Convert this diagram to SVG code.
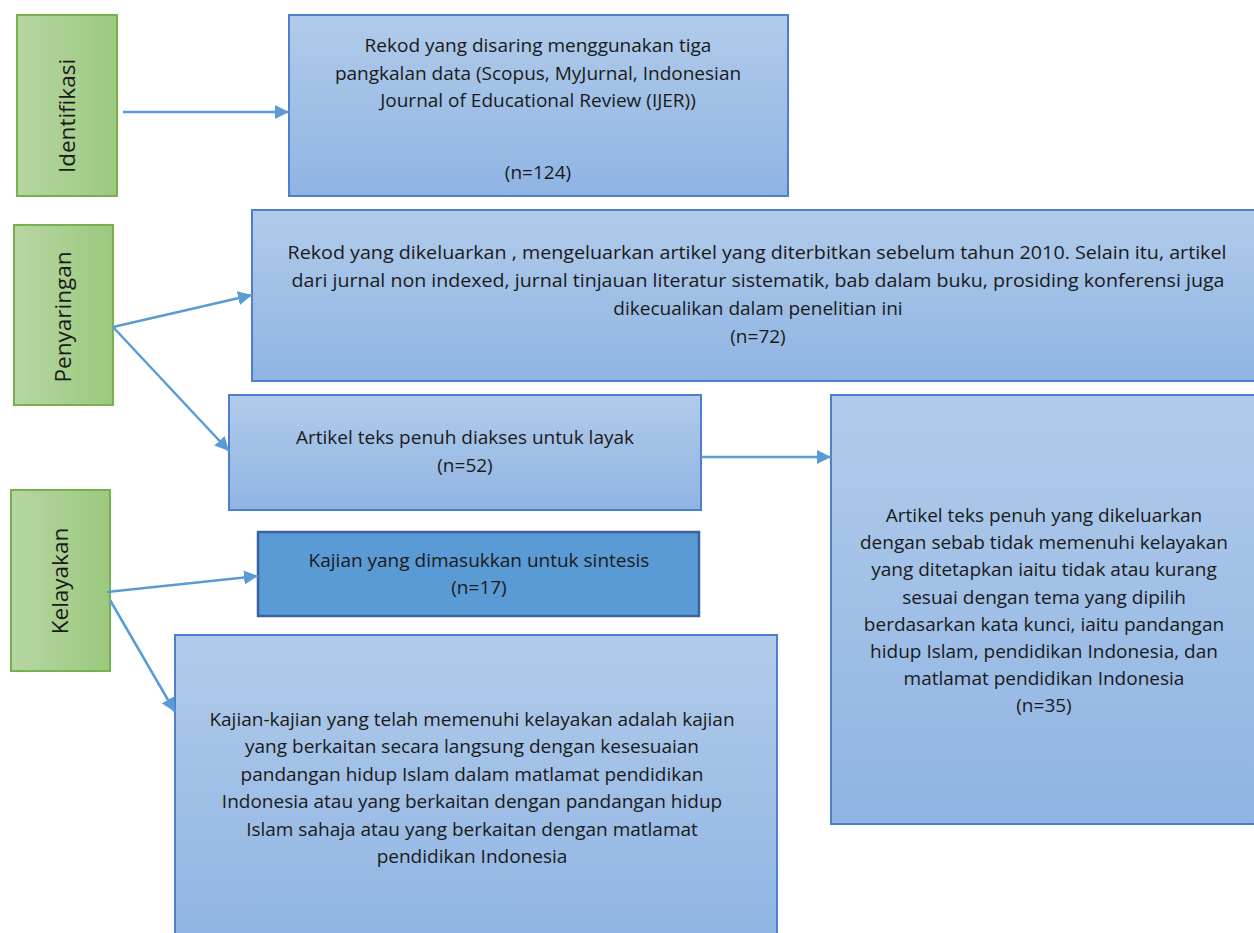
<svg xmlns="http://www.w3.org/2000/svg" width="1254" height="933" viewBox="0 0 1254 933">
<defs>
<linearGradient id="gb" x1="0" y1="0" x2="0" y2="1"><stop offset="0" stop-color="#b1cbea"/><stop offset="1" stop-color="#8fb4e3"/></linearGradient>
<linearGradient id="gg" x1="0" y1="0" x2="1" y2="0"><stop offset="0" stop-color="#b6d6a2"/><stop offset="1" stop-color="#9cc97e"/></linearGradient>
<marker id="ar" viewBox="0 0 10 10" refX="10" refY="5" markerWidth="14" markerHeight="14" markerUnits="userSpaceOnUse" orient="auto"><path d="M0,0 L10,5 L0,10 z" fill="#5b9bd5"/></marker>
<style>
.b{fill:url(#gb);stroke:#4f7fcb;stroke-width:2}
.g{fill:url(#gg);stroke:#77b04f;stroke-width:2}
.d{fill:#5b9bd5;stroke:#3a62a0;stroke-width:2.5}
text{font-family:"Open Sans","Liberation Sans",sans-serif;font-size:19px;fill:#1a1a1a;text-anchor:middle}
.v{font-size:22.5px}
.c line{stroke:#5b9bd5;stroke-width:2.5;marker-end:url(#ar)}
</style>
</defs>
<g id="identifikasi"><rect class="g" x="17" y="15" width="100" height="181"/><text class="v" transform="translate(75,116) rotate(-90)">Identifikasi</text></g>
<g id="penyaringan"><rect class="g" x="14" y="225" width="99" height="180"/><text class="v" transform="translate(71,317) rotate(-90)">Penyaringan</text></g>
<g id="kelayakan"><rect class="g" x="11" y="490" width="99" height="181"/><text class="v" transform="translate(68,581) rotate(-90)">Kelayakan</text></g>
<g id="box1"><rect class="b" x="289" y="15" width="499" height="181"/>
<text x="538" y="52">Rekod yang disaring menggunakan tiga</text>
<text x="538" y="80">pangkalan data (Scopus, MyJurnal, Indonesian</text>
<text x="538" y="107">Journal of Educational Review (IJER))</text>
<text x="538" y="179">(n=124)</text></g>
<g id="box2"><rect class="b" x="252" y="210" width="1010" height="171"/>
<text x="757" y="259" textLength="939" lengthAdjust="spacingAndGlyphs">Rekod yang dikeluarkan , mengeluarkan artikel yang diterbitkan sebelum tahun 2010. Selain itu, artikel</text>
<text x="758" y="287" textLength="933" lengthAdjust="spacingAndGlyphs">dari jurnal non indexed, jurnal tinjauan literatur sistematik, bab dalam buku, prosiding konferensi juga</text>
<text x="758" y="315">dikecualikan dalam penelitian ini</text>
<text x="758" y="343">(n=72)</text></g>
<g id="box3"><rect class="b" x="229" y="395" width="472" height="115"/>
<text x="465" y="444">Artikel teks penuh diakses untuk layak</text>
<text x="465" y="472">(n=52)</text></g>
<g id="box4"><rect class="d" x="258" y="532" width="441" height="84"/>
<text x="479" y="567">Kajian yang dimasukkan untuk sintesis</text>
<text x="479" y="594">(n=17)</text></g>
<g id="box5"><rect class="b" x="175" y="635" width="602" height="310"/>
<text x="472" y="726">Kajian-kajian yang telah memenuhi kelayakan adalah kajian</text>
<text x="472" y="753">yang berkaitan secara langsung dengan kesesuaian</text>
<text x="472" y="781">pandangan hidup Islam dalam matlamat pendidikan</text>
<text x="472" y="808">Indonesia atau yang berkaitan dengan pandangan hidup</text>
<text x="472" y="836">Islam sahaja atau yang berkaitan dengan matlamat</text>
<text x="472" y="863">pendidikan Indonesia</text></g>
<g id="box6"><rect class="b" x="831" y="395" width="440" height="429"/>
<text x="1044" y="522">Artikel teks penuh yang dikeluarkan</text>
<text x="1044" y="549">dengan sebab tidak memenuhi kelayakan</text>
<text x="1044" y="576">yang ditetapkan iaitu tidak atau kurang</text>
<text x="1044" y="604">sesuai dengan tema yang dipilih</text>
<text x="1044" y="631">berdasarkan kata kunci, iaitu pandangan</text>
<text x="1044" y="658">hidup Islam, pendidikan Indonesia, dan</text>
<text x="1044" y="685">matlamat pendidikan Indonesia</text>
<text x="1044" y="712">(n=35)</text></g>
<g id="connectors" class="c">
<line x1="123" y1="112" x2="289" y2="112"/>
<line x1="113" y1="327" x2="252" y2="295"/>
<line x1="113" y1="327" x2="229" y2="451"/>
<line x1="701" y1="457" x2="831" y2="457"/>
<line x1="107" y1="592" x2="258" y2="576"/>
<line x1="110" y1="600" x2="175" y2="712"/>
</g>
</svg>
